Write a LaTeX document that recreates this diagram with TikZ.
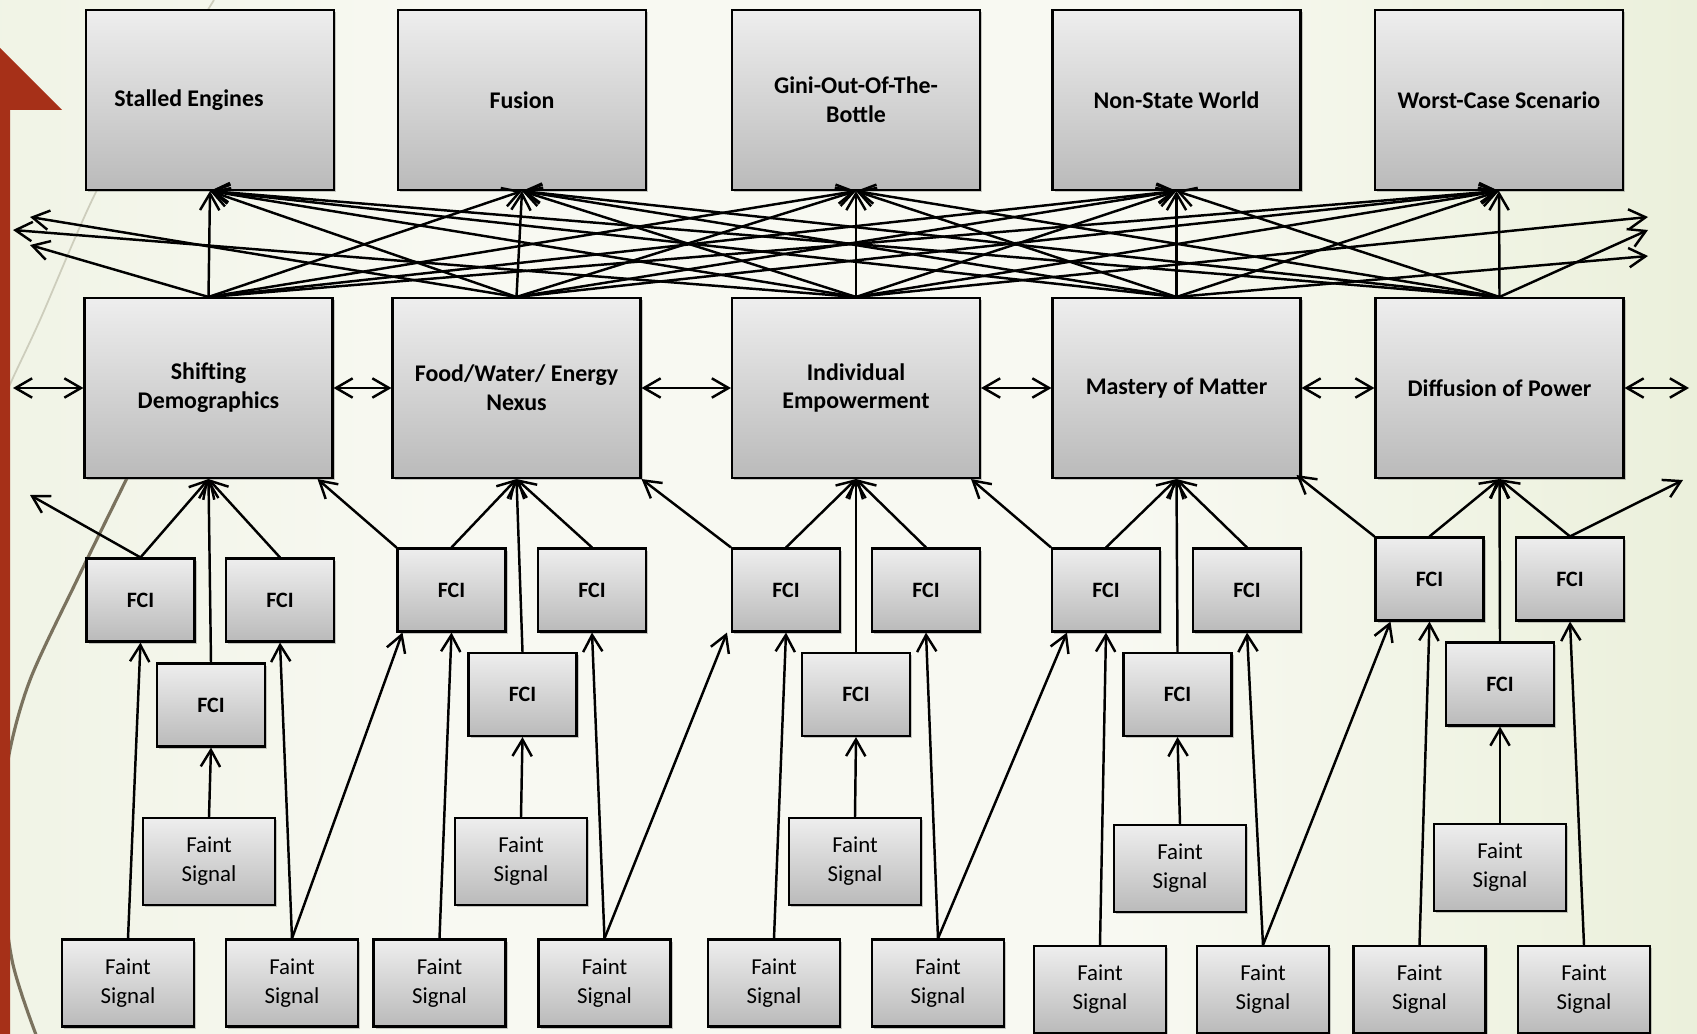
\documentclass[tikz,border=0pt]{standalone}
\usepackage{fontspec}
\setmainfont{Carlito}
\usetikzlibrary{arrows.meta,calc,shadows}

\definecolor{bgL}{RGB}{226,233,206}
\definecolor{bgM}{RGB}{248,249,242}
\definecolor{bgR}{RGB}{216,227,186}
\definecolor{boxT}{RGB}{238,238,238}
\definecolor{boxB}{RGB}{186,186,186}
\definecolor{wispred}{RGB}{166,48,24}
\definecolor{wispbrown}{RGB}{122,114,94}
\definecolor{wispline}{RGB}{205,205,188}

\pgfdeclarehorizontalshading{wispbg}{100bp}{color(0bp)=(bgL); color(38bp)=(bgM); color(58bp)=(bgM); color(100bp)=(bgR)}

\tikzset{
  box/.style={draw=black, line width=1.2pt, top color=boxT, bottom color=boxB,
    drop shadow={shadow xshift=1.3pt, shadow yshift=-1.3pt, opacity=0.35, fill=black!60},
    inner sep=0pt, align=center},
  bigbox/.style={box, minimum width=4.96cm, minimum height=3.6cm,
    font=\bfseries\fontsize{13.6}{16.4}\selectfont},
  fcibox/.style={box, minimum width=2.16cm, minimum height=1.66cm,
    font=\bfseries\fontsize{12.5}{15}\selectfont},
  sigbox/.style={box, minimum width=2.64cm, minimum height=1.74cm,
    font=\fontsize{13}{16.4}\selectfont},
  link/.style={line width=1.4pt, -{Straight Barb[length=9.5pt,width=11pt]}},
  dlink/.style={line width=1.4pt, {Straight Barb[length=9.5pt,width=11pt]}-{Straight Barb[length=9.5pt,width=11pt]}},
}

\begin{document}
\begin{tikzpicture}[x=0.02cm, y=-0.02cm]
\useasboundingbox (0,0) rectangle (1697,1034);
% backdrop
\shade[shading=wispbg] (0,0) rectangle (1697,1034);
\draw[wispline, line width=1pt] plot[smooth] coordinates {(214,0) (155,95) (97,190) (40,320) (12,380) (-5,420)};
\draw[wispbrown, line width=1.8pt] plot[smooth] coordinates {(150,430) (127,478) (77,580) (30,680) (8,760) (0,850) (12,960) (38,1040)};
\fill[wispred] (0,48) -- (62,110) -- (10,110) -- (10,1040) -- (-10,1040) -- (-10,110) -- (-62,110) -- cycle;

% outcome row
\node[bigbox] (t1) at (210,100) {\mbox{Stalled Engines\hspace{24pt}}};
\node[bigbox] (t2) at (522,100) {Fusion};
\node[bigbox] (t3) at (856,100) {Gini-Out-Of-The-\\Bottle};
\node[bigbox] (t4) at (1176.5,100) {Non-State World};
\node[bigbox] (t5) at (1499,100) {Worst-Case Scenario};

% driver row
\node[bigbox] (m1) at (208.5,388) {Shifting\\Demographics};
\node[bigbox] (m2) at (516.5,388) {Food/Water/ Energy\\Nexus};
\node[bigbox] (m3) at (856,388) {Individual\\Empowerment};
\node[bigbox] (m4) at (1176.5,388) {Mastery of Matter};
\node[bigbox] (m5) at (1499.5,388) {Diffusion of Power};

% FCI boxes and faint signals, one cluster per driver
\node[fcibox] (aL1) at (140.5,600) {FCI};
\node[fcibox] (aR1) at (280,600) {FCI};
\node[fcibox] (aC1) at (211,705) {FCI};
\node[sigbox] (sC1) at (209,861.5) {Faint\\Signal};
\node[sigbox] (sL1) at (128,983) {Faint\\Signal};
\node[sigbox] (sR1) at (292,983) {Faint\\Signal};

\node[fcibox] (aL2) at (451.5,590) {FCI};
\node[fcibox] (aR2) at (592,590) {FCI};
\node[fcibox] (aC2) at (522.5,694.5) {FCI};
\node[sigbox] (sC2) at (521,861.5) {Faint\\Signal};
\node[sigbox] (sL2) at (439.5,983) {Faint\\Signal};
\node[sigbox] (sR2) at (604.5,983) {Faint\\Signal};

\node[fcibox] (aL3) at (786,590) {FCI};
\node[fcibox] (aR3) at (926,590) {FCI};
\node[fcibox] (aC3) at (856,694.5) {FCI};
\node[sigbox] (sC3) at (855,861.5) {Faint\\Signal};
\node[sigbox] (sL3) at (774,983) {Faint\\Signal};
\node[sigbox] (sR3) at (938,983) {Faint\\Signal};

\node[fcibox] (aL4) at (1106,590) {FCI};
\node[fcibox] (aR4) at (1247,590) {FCI};
\node[fcibox] (aC4) at (1177.5,694.5) {FCI};
\node[sigbox] (sC4) at (1180,868.5) {Faint\\Signal};
\node[sigbox] (sL4) at (1100,989.5) {Faint\\Signal};
\node[sigbox] (sR4) at (1263,989.5) {Faint\\Signal};

\node[fcibox] (aL5) at (1429.5,579) {FCI};
\node[fcibox] (aR5) at (1570,579) {FCI};
\node[fcibox] (aC5) at (1500,684) {FCI};
\node[sigbox] (sC5) at (1500,867.5) {Faint\\Signal};
\node[sigbox] (sL5) at (1419.5,989.5) {Faint\\Signal};
\node[sigbox] (sR5) at (1584,989.5) {Faint\\Signal};

% loose ends leaving the frame
\coordinate (ol1) at (30,245);
\coordinate (ol2) at (30,217);
\coordinate (ol3) at (13,230);
\coordinate (or1) at (1648,230);
\coordinate (or2) at (1648,256);
\coordinate (or3) at (1648,217);
\coordinate (hl) at (13,388);
\coordinate (hr) at (1689,388);
\coordinate (fl) at (30,495);
\coordinate (fr) at (1683,480);

% every driver feeds every outcome
\foreach \i in {1,...,5}
  \foreach \j in {1,...,5}
    \draw[link] (m\i.north) -- (t\j.south);
\draw[link] (m1.north) -- (ol1);
\draw[link] (m2.north) -- (ol2);
\draw[link] (m3.north) -- (ol3);
\draw[link] (m5.north) -- (or1);
\draw[link] (m4.north) -- (or2);
\draw[link] (m3.north) -- (or3);

% links between neighbouring drivers
\draw[dlink] (hl) -- (m1.west);
\draw[dlink] (m1.east) -- (m2.west);
\draw[dlink] (m2.east) -- (m3.west);
\draw[dlink] (m3.east) -- (m4.west);
\draw[dlink] (m4.east) -- (m5.west);
\draw[dlink] (m5.east) -- (hr);

% inside each cluster
\foreach \g in {1,...,5} {
  \draw[link] (aL\g.north) -- (m\g.south);
  \draw[link] (aR\g.north) -- (m\g.south);
  \draw[link] (aC\g.north) -- (m\g.south);
  \draw[link] (sC\g.north) -- (aC\g.south);
  \draw[link] (sL\g.north) -- (aL\g.south);
  \draw[link] (sR\g.north) -- (aR\g.south);
}

% across clusters
\draw[link] (sR1.north) -- ($(aL2.south west)+(6,0)$);
\draw[link] (sR2.north) -- ($(aL3.south west)+(-4,0)$);
\draw[link] (sR3.north) -- ($(aL4.south west)+(16,0)$);
\draw[link] (sR4.north) -- ($(aL5.south west)+(16,0)$);
\draw[link] (aL2.north west) -- ($(m1.south east)+(-16,0)$);
\draw[link] (aL3.north west) -- ($(m2.south east)+(0,0)$);
\draw[link] (aL4.north west) -- ($(m3.south east)+(-10,0)$);
\draw[link] (aL5.north west) -- ($(m4.south east)+(-5,-4)$);
\draw[link] (aL1.north) -- (fl);
\draw[link] (aR5.north) -- (fr);
\end{tikzpicture}
\end{document}
